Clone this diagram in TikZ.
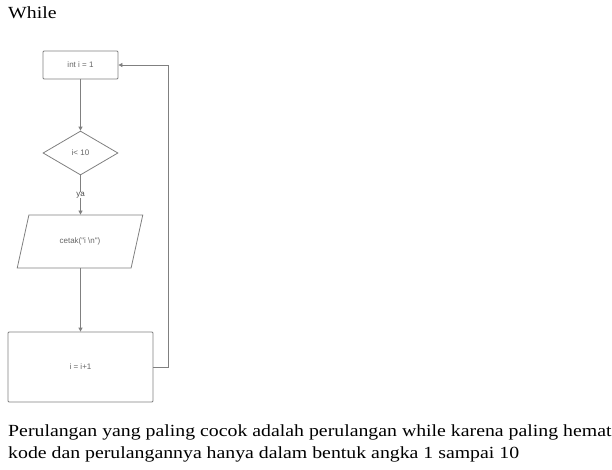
\documentclass[tikz,border=0pt]{standalone}
\usepackage{fontspec}
\setmainfont{Liberation Serif}
\newfontfamily\arialf{Liberation Sans}
\usetikzlibrary{shapes.geometric,arrows.meta}
\newcommand{\wide}[1]{\scalebox{1.165}[1]{#1}}
\begin{document}
\begin{tikzpicture}[x=1pt,y=-1pt,
  flow/.style={draw=black!50,line width=0.8pt,fill=white},
  lbl/.style={font=\arialf\fontsize{8}{9}\selectfont,text=black!60},
  conn/.style={draw=black!50,line width=0.8pt,-{Triangle[length=4pt,width=4pt]}},
  body/.style={font=\fontsize{17}{22}\selectfont,anchor=base west,inner sep=0pt}]
\useasboundingbox (0,0) rectangle (612,469);
\node[body] (title) at (8,18.5) {\wide{While}};
\node[flow,rectangle,rounded corners=1pt,minimum width=75pt,minimum height=28pt,lbl] (init) at (80.5,65) {int i = 1};
\node[flow,diamond,aspect=1.7,minimum width=75pt,minimum height=44pt,inner sep=0pt,lbl] (cond) at (80.5,153) {i< 10};
\node[flow,trapezium,trapezium left angle=69,trapezium right angle=111,minimum width=126pt,minimum height=53pt,trapezium stretches=true,lbl] (out) at (80,241.5) {cetak("i \textbackslash n")};
\node[flow,rectangle,rounded corners=1pt,minimum width=145pt,minimum height=70pt,lbl] (inc) at (80.5,367) {i = i+1};
\coordinate (c1) at (168,367);
\coordinate (c2) at (168,65);
\draw[conn] (init.south) -- (cond.north);
\draw[conn] (cond.south) -- node[lbl,fill=white,inner sep=0.5pt,pos=0.5,text=black!70] (ya) {ya} (out.north -| cond.south);
\draw[conn] (out.south -| cond.south) -- (inc.north);
\draw[conn] (inc.east) -- (c1) -- (c2) -- (init.east);
\node[body] (p1) at (8,436) {\wide{Perulangan yang paling cocok adalah perulangan while karena paling hemat}};
\node[body] (p2) at (8,458) {\wide{kode dan perulangannya hanya dalam bentuk angka 1 sampai 10}};
\end{tikzpicture}
\end{document}
